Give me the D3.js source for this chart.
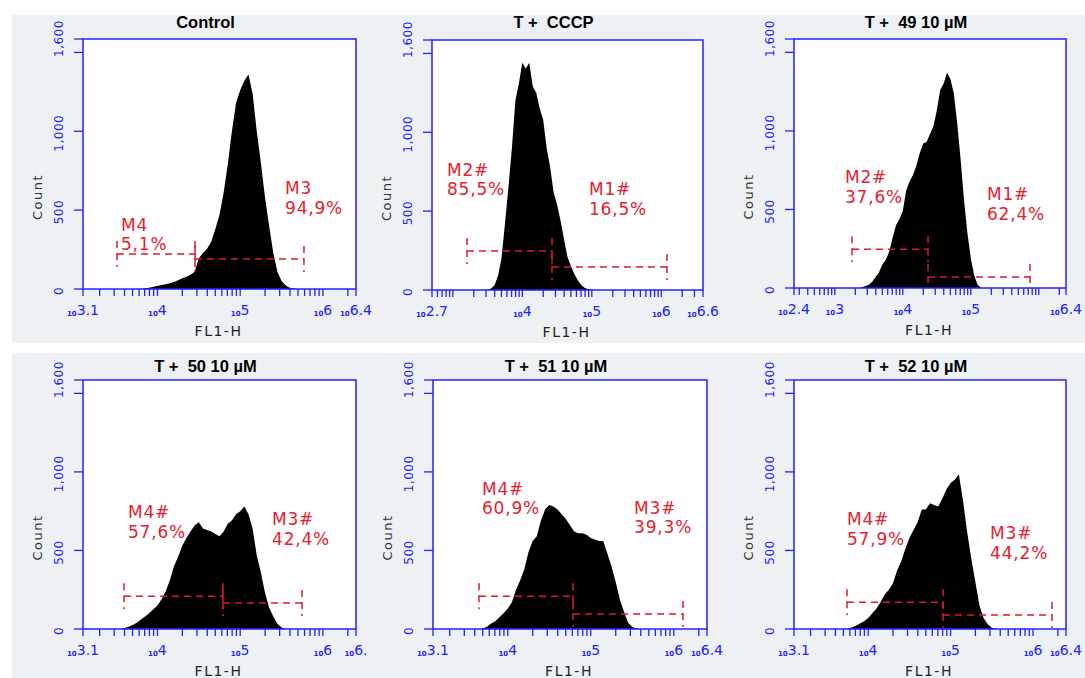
<!DOCTYPE html>
<html>
<head>
<meta charset="utf-8">
<script src="https://cdn.jsdelivr.net/npm/d3@7"></script>
<style>
  html, body { margin: 0; padding: 0; background: #ffffff; }
  svg { display: block; }
</style>
</head>
<body>
<svg id="chart" width="1085" height="678"></svg>
<script>
// ---- data ---------------------------------------------------------------
const titles = ["Control", "T +  CCCP", "T +  49 10 µM", "T +  50 10 µM", "T +  51 10 µM", "T +  52 10 µM"];

// FL1-H axis range, in log10 units
const xDomains = [[3.1, 6.4], [2.7, 6.6], [2.4, 6.4], [3.1, 6.4], [3.1, 6.4], [3.1, 6.4]];
const xTickValues = [
  [3.1, 4, 5, 6, 6.4], [2.7, 4, 5, 6, 6.6], [2.4, 3, 4, 5, 6.4],
  [3.1, 4, 5, 6, 6.4], [3.1, 4, 5, 6, 6.4], [3.1, 4, 5, 6, 6.4]
];
const xTickLabels = [
  ["3.1", "4", "5", "6", "6.4"], ["2.7", "4", "5", "6", "6.6"], ["2.4", "3", "4", "5", "6.4"],
  ["3.1", "4", "5", "6", "6."], ["3.1", "4", "5", "6", "6.4"], ["3.1", "4", "5", "6", "6.4"]
];

// Count axis
const yMax = 1585;
const yTickValues = [0, 500, 1000, 1500];
const yLabelValues = [0, 500, 1000, 1600];
const yLabels = ["0", "500", "1,000", "1,600"];

// histogram bins: centre of first bin (log10) and bin width (log10)
const binWidth = 0.05;
const binStarts = [3.80, 3.45, 3.40, 3.60, 3.70, 3.75];

const countsControl = [0, 5, 8, 14, 19, 25, 30, 36, 45, 55, 68, 78, 90, 110, 195, 228, 255, 300, 380, 470,
  610, 790, 1000, 1180, 1260, 1320, 1360, 1240, 1000, 800, 580, 400, 230, 110, 50, 22, 8, 3, 0];
const countsCCCP = [0, 2, 10, 30, 90, 200, 420, 650, 900, 1200, 1310, 1440, 1405, 1440, 1290, 1250, 1150, 1080,
  900, 780, 620, 540, 440, 320, 210, 150, 100, 60, 30, 12, 4, 0];
const counts49 = [5, 12, 20, 40, 70, 100, 150, 180, 230, 320, 400, 440, 490, 620, 680, 720, 780, 860, 920, 930,
  980, 1030, 1130, 1260, 1300, 1370, 1330, 1240, 1050, 820, 560, 350, 190, 80, 20, 2];
const counts50 = [5, 15, 25, 40, 60, 80, 100, 125, 150, 190, 240, 310, 400, 460, 530, 580, 620, 660, 680, 640,
  630, 620, 605, 590, 620, 670, 690, 730, 750, 780, 730, 640, 470, 360, 230, 135, 80, 34, 9, 2];
const counts51 = [3, 15, 35, 50, 75, 100, 130, 170, 250, 310, 380, 490, 560, 590, 690, 760, 790, 780, 760, 730,
  700, 660, 620, 610, 610, 600, 580, 570, 560, 560, 480, 400, 300, 190, 110, 40, 12, 3];
const counts52 = [3, 10, 20, 35, 50, 70, 100, 130, 170, 220, 250, 290, 370, 430, 510, 580, 630, 680, 760, 760,
  800, 790, 780, 830, 890, 930, 950, 985, 820, 620, 450, 300, 150, 70, 30, 8, 2];
const panelCounts = [countsControl, countsCCCP, counts49, counts50, counts51, counts52];

// gate markers: low / high edge (log10) and drawn level (count)
const markerNames = [["M4", "M3"], ["M2#", "M1#"], ["M2#", "M1#"], ["M4#", "M3#"], ["M4#", "M3#"], ["M4#", "M3#"]];
const markerPercents = [["5,1%", "94,9%"], ["85,5%", "16,5%"], ["37,6%", "62,4%"], ["57,6%", "42,4%"], ["60,9%", "39,3%"], ["57,9%", "44,2%"]];
const markerRanges = [
  [[3.511, 4.454], [4.454, 5.771]],
  [[3.204, 4.427], [4.427, 6.082]],
  [[3.253, 4.371], [4.371, 5.871]],
  [[3.596, 4.792], [4.792, 5.747]],
  [[3.654, 4.786], [4.786, 6.111]],
  [[3.743, 4.908], [4.908, 6.230]]
];
const markerLevels = [[222, 190], [247, 146], [247, 70], [209, 165], [209, 95], [171, 89]];

// ---- layout -------------------------------------------------------------
const panelBoxes = [
  { x0: 83, x1: 356, y0: 39, y1: 289, titleY: 28 },
  { x0: 432, x1: 703, y0: 40, y1: 290, titleY: 28 },
  { x0: 794, x1: 1066, y0: 39, y1: 288, titleY: 28 },
  { x0: 83, x1: 356, y0: 380, y1: 629, titleY: 372 },
  { x0: 433, x1: 707, y0: 380, y1: 629, titleY: 372 },
  { x0: 794, x1: 1066, y0: 380, y1: 629, titleY: 372 }
];
// where each marker's text block sits: [log10 x of left edge, count at first baseline]
const labelAnchors = [
  [[3.559, 368], [5.542, 602]],
  [[2.916, 723], [4.959, 602]],
  [[3.15, 666], [5.238, 558]],
  [[3.644, 704], [5.385, 659]],
  [[3.69, 856], [5.522, 735]],
  [[3.743, 659], [5.479, 571]]
];

const BLUE = "#2222ff";
const RED_TEXT = "#e6202e";
const RED_LINE = "#d81c2a";
const BG = "#edf1f4";

const svg = d3.select("#chart");

// panel backgrounds (two rows separated by a white strip)
svg.append("rect").attr("x", 12).attr("y", 15).attr("width", 1073).attr("height", 328).attr("fill", BG);
svg.append("rect").attr("x", 12).attr("y", 353).attr("width", 1073).attr("height", 325).attr("fill", BG);

panelBoxes.forEach((box, i) => {
  const [lo, hi] = xDomains[i];
  const x = d3.scaleLog().domain([10 ** lo, 10 ** hi]).range([box.x0, box.x1]);
  const y = d3.scaleLinear().domain([0, yMax]).range([box.y1, box.y0]);
  const g = svg.append("g");

  // plot area
  g.append("rect")
    .attr("x", box.x0).attr("y", box.y0)
    .attr("width", box.x1 - box.x0).attr("height", box.y1 - box.y0)
    .attr("fill", "#ffffff");

  const clipId = "clip" + i;
  svg.append("clipPath").attr("id", clipId).append("rect")
    .attr("x", box.x0).attr("y", box.y0)
    .attr("width", box.x1 - box.x0).attr("height", box.y1 - box.y0);

  // histogram
  const counts = panelCounts[i];
  const pts = [{ L: binStarts[i] - binWidth, c: 0 }]
    .concat(counts.map((c, k) => ({ L: binStarts[i] + k * binWidth, c })))
    .concat([{ L: binStarts[i] + counts.length * binWidth, c: 0 }]);
  const area = d3.area()
    .x(d => x(10 ** d.L))
    .y0(y(0))
    .y1(d => y(d.c))
    .curve(d3.curveLinear);
  g.append("path")
    .datum(pts)
    .attr("clip-path", `url(#${clipId})`)
    .attr("fill", "#000000")
    .attr("d", area);

  // gate markers
  const mk = g.append("g").attr("clip-path", `url(#${clipId})`)
    .attr("stroke", RED_LINE).attr("stroke-width", 1.5)
    .attr("stroke-dasharray", "7,5").attr("fill", "none");
  markerRanges[i].forEach((r, m) => {
    const yl = y(markerLevels[i][m]);
    const xa = x(10 ** r[0]), xb = x(10 ** r[1]);
    mk.append("line").attr("x1", xa).attr("x2", xb).attr("y1", yl).attr("y2", yl);
    [xa, xb].forEach(xv => {
      mk.append("line").attr("x1", xv).attr("x2", xv)
        .attr("y1", yl - 13).attr("y2", yl + 13);
    });
  });

  // marker labels
  labelAnchors[i].forEach((a, m) => {
    const t = g.append("text")
      .attr("x", x(10 ** a[0]))
      .attr("y", y(a[1]))
      .attr("fill", RED_TEXT)
      .attr("font-family", "'DejaVu Sans', sans-serif")
      .attr("font-size", 17)
      .attr("letter-spacing", 0.8);
    t.append("tspan").attr("x", x(10 ** a[0])).text(markerNames[i][m]);
    t.append("tspan").attr("x", x(10 ** a[0])).attr("dy", 19.5).text(markerPercents[i][m]);
  });

  // frame
  g.append("rect")
    .attr("x", box.x0).attr("y", box.y0)
    .attr("width", box.x1 - box.x0).attr("height", box.y1 - box.y0)
    .attr("fill", "none").attr("stroke", BLUE).attr("stroke-width", 1.5);

  // x minor/major ticks (every k·10^d inside the range, plus the ends)
  const tickLogs = [lo, hi];
  for (let d = Math.floor(lo); d <= Math.ceil(hi); d++) {
    for (let k = 1; k <= 9; k++) {
      const v = d + Math.log10(k);
      if (v > lo + 1e-6 && v < hi - 1e-6) tickLogs.push(v);
    }
  }
  g.append("g").selectAll("line").data(tickLogs).join("line")
    .attr("x1", v => x(10 ** v)).attr("x2", v => x(10 ** v))
    .attr("y1", box.y1).attr("y2", box.y1 + 7)
    .attr("stroke", BLUE).attr("stroke-width", 1.3);

  // x labels: small "10" followed by the exponent
  xTickValues[i].forEach((v, k) => {
    const t = g.append("text")
      .attr("x", x(10 ** v))
      .attr("y", box.y1 + 26)
      .attr("text-anchor", "middle")
      .attr("fill", BLUE)
      .attr("font-family", "'DejaVu Sans', sans-serif");
    t.append("tspan").attr("font-size", 7).attr("font-weight", "bold").attr("dy", 1).text("10");
    t.append("tspan").attr("font-size", 14).attr("dy", -1).text(xTickLabels[i][k]);
  });

  // y ticks
  g.append("g").selectAll("line").data(yTickValues.concat([yMax])).join("line")
    .attr("x1", box.x0 - 9).attr("x2", box.x0)
    .attr("y1", v => y(v)).attr("y2", v => y(v))
    .attr("stroke", BLUE).attr("stroke-width", 1.3);

  // y labels (rotated)
  yLabelValues.forEach((v, k) => {
    g.append("text")
      .attr("transform", `translate(${box.x0 - 20},${y(v) + 2}) rotate(-90)`)
      .attr("text-anchor", "middle")
      .attr("fill", BLUE)
      .attr("font-family", "'DejaVu Sans', sans-serif")
      .attr("font-size", 12)
      .attr("letter-spacing", 0.5)
      .text(yLabels[k]);
  });

  // axis titles
  g.append("text")
    .attr("transform", `translate(${box.x0 - 41},${(box.y0 + box.y1) / 2 + 33}) rotate(-90)`)
    .attr("text-anchor", "middle")
    .attr("fill", "#333333")
    .attr("font-family", "'DejaVu Sans', sans-serif")
    .attr("font-size", 13)
    .attr("letter-spacing", 1.5)
    .text("Count");

  g.append("text")
    .attr("x", (box.x0 + box.x1) / 2 - 1)
    .attr("y", box.y1 + 47)
    .attr("text-anchor", "middle")
    .attr("fill", "#222222")
    .attr("font-family", "'DejaVu Sans', sans-serif")
    .attr("font-size", 14)
    .attr("letter-spacing", 1.5)
    .text("FL1-H");

  // panel title
  g.append("text")
    .attr("x", (box.x0 + box.x1) / 2 - 14)
    .attr("y", box.titleY)
    .attr("text-anchor", "middle")
    .attr("fill", "#000000")
    .attr("font-family", "'Liberation Sans', Arial, sans-serif")
    .attr("font-weight", "bold")
    .attr("font-size", 16.5)
    .style("white-space", "pre")
    .text(titles[i]);
});
</script>
</body>
</html>
